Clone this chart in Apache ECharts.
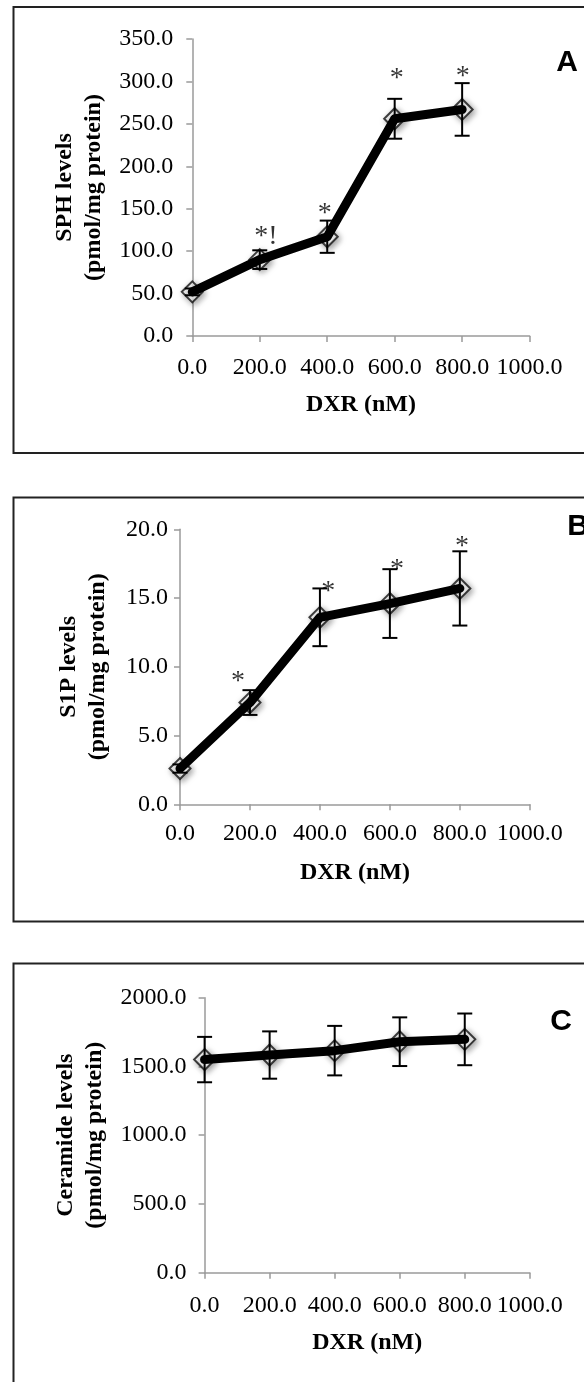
<!DOCTYPE html>
<html>
<head>
<meta charset="utf-8">
<script src="https://cdn.jsdelivr.net/npm/echarts@6/dist/echarts.min.js"></script>
<style>
  html, body { margin: 0; padding: 0; background: #fff; }
  #chart { width: 584px; height: 1382px; }
</style>
</head>
<body>
<div id="chart"></div>
<script>
// DXR dose (nM)
const doses = [0, 200, 400, 600, 800];

// panel A - SPH
const sphMean = [52, 90, 117, 256, 267];
const sphErr = [4, 11, 19, 23.5, 31];
const sphMarks = [[218, 123, '*!'], [393, 150, '*'], [606, 309, '*'], [802, 311, '*']];

// panel B - S1P
const s1pMean = [2.6, 7.4, 13.6, 14.6, 15.7];
const s1pErr = [0.3, 0.9, 2.1, 2.5, 2.7];
const s1pMarks = [[166, 9.3, '*'], [424, 15.8, '*'], [620, 17.4, '*'], [806, 19.1, '*']];

// panel C - ceramide
const cerMean = [1550, 1583, 1615, 1680, 1697];
const cerErr = [165, 172, 180, 177, 188];
const cerMarks = [];

const serif = 'Liberation Serif';
const chart = echarts.init(document.getElementById('chart'));

// layout of each panel (pixels)
const panels = [
  { grid: { left: 192.3, top: 39, width: 337.3, height: 297 }, yMax: 350, yStep: 50,
    yName: 'SPH levels\n(pmol/mg protein)', yGap: 76, yMargin: 19, xMargin: 20, xGap: 57,
    mean: sphMean, err: sphErr, marks: sphMarks },
  { grid: { left: 180, top: 529.3, width: 349.8, height: 275 }, yMax: 20, yStep: 5,
    yName: 'S1P levels\n(pmol/mg protein)', yGap: 68, yMargin: 12, xMargin: 17, xGap: 56,
    mean: s1pMean, err: s1pErr, marks: s1pMarks },
  { grid: { left: 204.6, top: 997.7, width: 325.2, height: 275 }, yMax: 2000, yStep: 500,
    yName: 'Ceramide levels\n(pmol/mg protein)', yGap: 89, yMargin: 18, xMargin: 21, xGap: 58,
    mean: cerMean, err: cerErr, marks: cerMarks }
];

const axisGray = { lineStyle: { color: '#9a9a9a', width: 1.5 } };
const grids = [], xAxes = [], yAxes = [], series = [];

panels.forEach((p, i) => {
  grids.push(p.grid);
  xAxes.push({
    type: 'value', gridIndex: i, min: 0, max: 1000, interval: 200,
    name: 'DXR (nM)', nameLocation: 'middle', nameGap: p.xGap,
    nameTextStyle: { fontFamily: serif, fontWeight: 'bold', fontSize: 24, color: '#000' },
    axisLine: axisGray, axisTick: { show: true, length: 6, lineStyle: { color: '#9a9a9a', width: 1.5 } },
    splitLine: { show: false }, showMinLabel: true, showMaxLabel: true,
    axisLabel: { fontFamily: serif, fontSize: 24, color: '#000', margin: p.xMargin,
      formatter: v => v.toFixed(1) }
  });
  yAxes.push({
    type: 'value', gridIndex: i, min: 0, max: p.yMax, interval: p.yStep,
    name: p.yName, nameLocation: 'middle', nameGap: p.yGap, nameRotate: 90,
    nameTextStyle: { fontFamily: serif, fontWeight: 'bold', fontSize: 24, color: '#000', lineHeight: 29 },
    axisLine: { show: true, ...axisGray }, axisTick: { show: true, length: 6, lineStyle: { color: '#9a9a9a', width: 1.5 } },
    splitLine: { show: false },
    axisLabel: { fontFamily: serif, fontSize: 24, color: '#000', margin: p.yMargin,
      formatter: v => v.toFixed(1) }
  });

  const pts = doses.map((d, k) => [d, p.mean[k]]);
  // open diamonds under the line
  series.push({
    type: 'scatter', xAxisIndex: i, yAxisIndex: i, z: 2, data: pts,
    symbol: 'diamond', symbolSize: 21,
    itemStyle: { color: '#fff', borderColor: '#111', borderWidth: 2,
      shadowBlur: 6, shadowColor: 'rgba(0,0,0,0.45)', shadowOffsetX: 2, shadowOffsetY: 2 }
  });
  series.push({
    type: 'line', xAxisIndex: i, yAxisIndex: i, z: 3, data: pts, symbol: 'none',
    lineStyle: { color: '#000', width: 9, cap: 'round', join: 'round' }
  });
  // error bars
  series.push({
    type: 'custom', xAxisIndex: i, yAxisIndex: i, z: 4,
    data: doses.map((d, k) => [d, p.mean[k] - p.err[k], p.mean[k] + p.err[k]]),
    renderItem: (params, api) => {
      const lo = api.coord([api.value(0), api.value(1)]);
      const hi = api.coord([api.value(0), api.value(2)]);
      const w = 7.5;
      const st = { stroke: '#000', lineWidth: 2 };
      return { type: 'group', children: [
        { type: 'line', shape: { x1: lo[0], y1: lo[1], x2: hi[0], y2: hi[1] }, style: st },
        { type: 'line', shape: { x1: hi[0] - w, y1: hi[1], x2: hi[0] + w, y2: hi[1] }, style: st },
        { type: 'line', shape: { x1: lo[0] - w, y1: lo[1], x2: lo[0] + w, y2: lo[1] }, style: st }
      ] };
    }
  });
  // significance marks
  series.push({
    type: 'scatter', xAxisIndex: i, yAxisIndex: i, z: 5, symbolSize: 0,
    data: p.marks.map(m => ({ value: [m[0], m[1]], label: { formatter: m[2] } })),
    label: { show: true, position: 'inside', offset: [0, 5], fontFamily: serif, fontSize: 28, color: '#000' }
  });
});

const boxStyle = { fill: 'none', stroke: '#222', lineWidth: 2 };
const letter = (t, x, y) => ({
  type: 'text', x: x, y: y,
  style: { text: t, font: 'bold 30px "Liberation Sans"', fill: '#000', align: 'center', verticalAlign: 'middle' }
});

chart.setOption({
  animation: false,
  grid: grids,
  xAxis: xAxes,
  yAxis: yAxes,
  series: series,
  graphic: [
    { type: 'rect', shape: { x: 13.5, y: 7, width: 600, height: 446 }, style: boxStyle },
    { type: 'rect', shape: { x: 13.5, y: 497.5, width: 600, height: 424 }, style: boxStyle },
    { type: 'rect', shape: { x: 13.5, y: 963.5, width: 600, height: 440 }, style: boxStyle },
    letter('A', 567, 63),
    letter('B', 578, 527),
    letter('C', 561, 1022)
  ]
});
</script>
</body>
</html>
